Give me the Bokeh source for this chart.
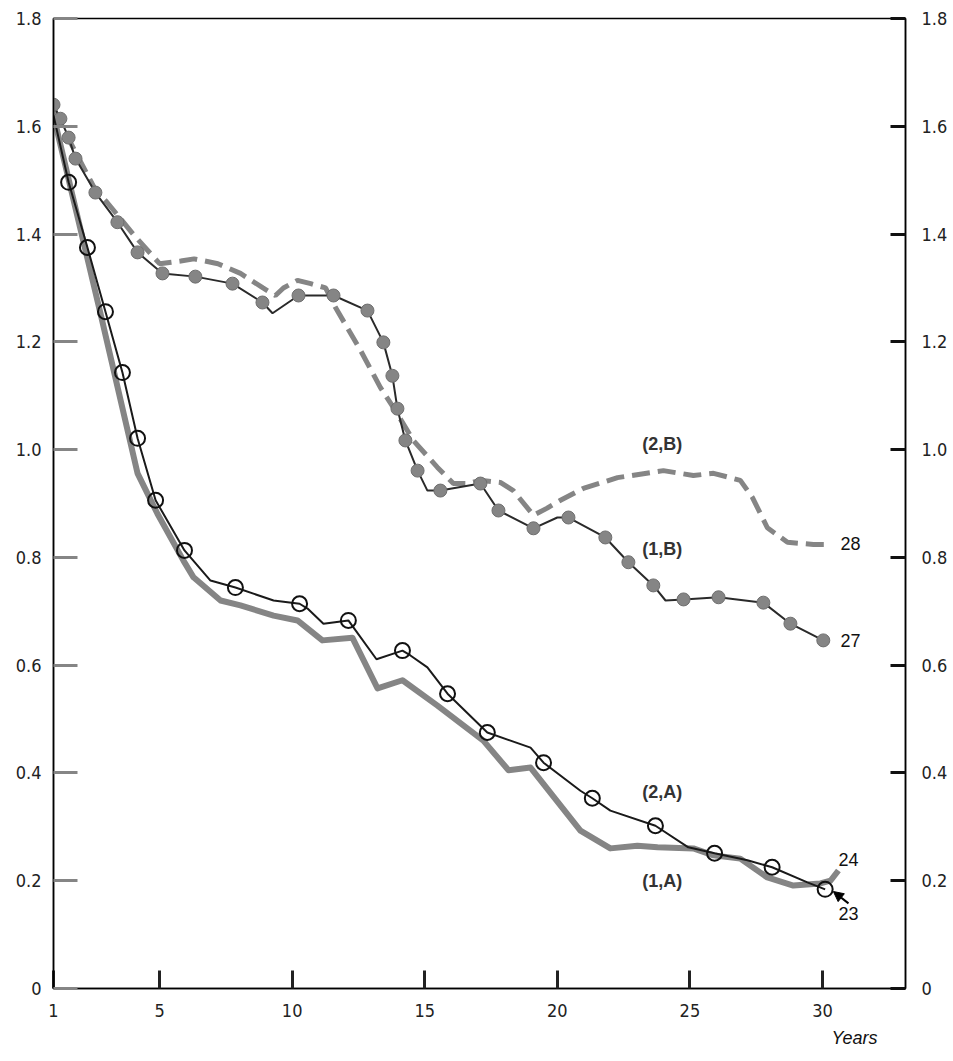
from bokeh.plotting import figure
from bokeh.models import (LinearAxis, FixedTicker, Range1d, Label, Arrow, NormalHead, Title)
from bokeh.embed import file_html
from bokeh.resources import INLINE

# ---------------- data ----------------
years_1A = [1.0, 2.77, 4.17, 4.92, 5.90, 6.28, 7.30, 8.05, 9.30, 10.20, 11.14, 12.27, 13.22,
            14.16, 15.48, 17.21, 18.16, 18.99, 20.87, 22.00, 23.02, 23.78, 25.13, 25.89,
            26.90, 27.92, 28.90, 29.92, 30.30, 30.60]
vals_1A = [1.62, 1.253, 0.956, 0.881, 0.794, 0.763, 0.720, 0.711, 0.692, 0.683, 0.646, 0.651,
           0.557, 0.572, 0.525, 0.460, 0.405, 0.410, 0.293, 0.260, 0.265, 0.262, 0.260, 0.247,
           0.241, 0.206, 0.191, 0.195, 0.200, 0.219]

years_2A = [1.0, 1.57, 2.28, 2.96, 3.60, 4.17, 4.85, 5.94, 6.92, 7.86, 9.30, 10.28, 10.58,
            11.18, 12.12, 12.31, 13.18, 14.16, 14.46, 15.10, 15.86, 17.36, 18.99, 19.48,
            20.87, 21.32, 22.00, 23.70, 24.94, 25.93, 27.17, 28.10, 29.43, 30.10]
vals_2A = [1.62, 1.496, 1.375, 1.256, 1.143, 1.021, 0.906, 0.813, 0.757, 0.744, 0.720, 0.714,
           0.705, 0.677, 0.683, 0.670, 0.611, 0.627, 0.618, 0.596, 0.547, 0.475, 0.447, 0.419,
           0.367, 0.353, 0.330, 0.302, 0.262, 0.251, 0.238, 0.225, 0.197, 0.184]
mark_years_2A = [1.57, 2.28, 2.96, 3.60, 4.17, 4.85, 5.94, 7.86, 10.28, 12.12, 14.16, 15.86,
                 17.36, 19.48, 21.32, 23.70, 25.93, 28.10, 30.10]
mark_vals_2A = [1.496, 1.375, 1.256, 1.143, 1.021, 0.906, 0.813, 0.744, 0.714, 0.683, 0.627,
                0.547, 0.475, 0.419, 0.353, 0.302, 0.251, 0.225, 0.184]

years_1B = [1.0, 1.26, 1.57, 1.83, 2.58, 3.41, 4.17, 5.11, 6.35, 7.75, 8.88, 9.26, 10.24,
            11.56, 12.84, 13.44, 13.78, 13.97, 14.27, 14.73, 15.10, 15.59, 17.10, 17.78,
            19.10, 20.00, 20.42, 21.81, 22.68, 23.62, 24.08, 24.76, 26.08, 27.77, 28.79, 30.03]
vals_1B = [1.64, 1.614, 1.579, 1.540, 1.477, 1.422, 1.366, 1.327, 1.321, 1.308, 1.273, 1.253,
           1.286, 1.286, 1.258, 1.199, 1.137, 1.076, 1.017, 0.961, 0.924, 0.924, 0.937, 0.887,
           0.854, 0.874, 0.874, 0.837, 0.791, 0.748, 0.720, 0.722, 0.726, 0.716, 0.677, 0.646]
mark_years_1B = [1.0, 1.26, 1.57, 1.83, 2.58, 3.41, 4.17, 5.11, 6.35, 7.75, 8.88, 10.24,
                 11.56, 12.84, 13.44, 13.78, 13.97, 14.27, 14.73, 15.59, 17.10, 17.78, 19.10,
                 20.42, 21.81, 22.68, 23.62, 24.76, 26.08, 27.77, 28.79, 30.03]
mark_vals_1B = [1.64, 1.614, 1.579, 1.540, 1.477, 1.422, 1.366, 1.327, 1.321, 1.308, 1.273,
                1.286, 1.286, 1.258, 1.199, 1.137, 1.076, 1.017, 0.961, 0.924, 0.937, 0.887,
                0.854, 0.874, 0.837, 0.791, 0.748, 0.722, 0.726, 0.716, 0.677, 0.646]

years_2B = [1.0, 2.6, 3.0, 4.0, 5.0, 5.8, 6.3, 7.2, 8.05, 8.9, 9.37, 9.67, 10.2, 10.7, 11.26,
            11.63, 12.58, 13.33, 13.82, 14.57, 15.48, 16.08, 16.61, 17.10, 17.85, 18.34,
            19.10, 19.6, 20.12, 20.98, 22.27, 24.0, 25.13, 25.89, 26.9, 27.36, 27.92, 28.68,
            29.66, 30.10]
vals_2B = [1.63, 1.48, 1.46, 1.40, 1.345, 1.35, 1.354, 1.345, 1.327, 1.30, 1.286, 1.30, 1.314,
           1.308, 1.30, 1.264, 1.184, 1.115, 1.078, 1.017, 0.967, 0.937, 0.937, 0.943, 0.939,
           0.924, 0.878, 0.891, 0.906, 0.928, 0.948, 0.961, 0.952, 0.956, 0.943, 0.911, 0.855,
           0.828, 0.824, 0.824]

x_ticks = [1, 5, 10, 15, 20, 25, 30]
y_ticks = [0, 0.2, 0.4, 0.6, 0.8, 1.0, 1.2, 1.4, 1.6, 1.8]
y_tick_labels = ["0", "0.2", "0.4", "0.6", "0.8", "1.0", "1.2", "1.4", "1.6", "1.8"]
x_title = "Years"

series_labels = ["(2,B)", "(1,B)", "(2,A)", "(1,A)"]
series_label_x = [23.96, 23.96, 23.96, 23.96]
series_label_y = [1.011, 0.815, 0.364, 0.200]
end_labels = ["28", "27", "24", "23"]
end_label_x = [30.68, 30.68, 30.60, 30.60]
end_label_y = [0.826, 0.646, 0.239, 0.139]

# ---------------- figure ----------------
GRAY = "#858585"
TICK_FONT = "'DejaVu Sans Condensed', 'Liberation Sans Narrow', 'Liberation Sans'"

p = figure(width=950, height=1060, output_backend="svg", toolbar_location=None,
           x_range=Range1d(1, 33.13), y_range=Range1d(0, 1.8),
           x_axis_location=None, y_axis_location=None,
           min_border_left=53, min_border_right=45, min_border_top=18, min_border_bottom=72)
p.grid.visible = False
p.outline_line_color = "black"
p.outline_line_width = 1.5
p.background_fill_color = "white"
p.border_fill_color = "white"

def style_axis(ax, tick_in, tick_color, standoff):
    ax.major_tick_in = tick_in
    ax.major_tick_out = 0
    ax.minor_tick_line_color = None
    ax.major_tick_line_color = tick_color
    ax.major_tick_line_width = 3
    ax.axis_line_color = "black"
    ax.axis_line_width = 1.5
    ax.major_label_text_font = TICK_FONT
    ax.major_label_text_font_size = "18px"
    ax.major_label_text_color = "#222222"
    ax.major_label_standoff = standoff

left = LinearAxis(ticker=FixedTicker(ticks=y_ticks))
left.major_label_overrides = {t: s for t, s in zip(y_ticks, y_tick_labels)}
style_axis(left, 24, GRAY, 12)
p.add_layout(left, "left")

right = LinearAxis(ticker=FixedTicker(ticks=y_ticks))
right.major_label_overrides = {t: s for t, s in zip(y_ticks, y_tick_labels)}
style_axis(right, 15, "#111111", 16)
p.add_layout(right, "right")

bottom = LinearAxis(ticker=FixedTicker(ticks=x_ticks))
style_axis(bottom, 18, "#222222", 15)
p.add_layout(bottom, "below")

p.add_layout(Title(text=x_title, align="right", offset=28, standoff=13,
                   text_font="Liberation Sans", text_font_style="italic",
                   text_font_size="18px", text_color="#111111"), "below")

# ---------------- series ----------------
# (2,B) dashed gray
p.line(years_2B, vals_2B, line_color=GRAY, line_width=5, line_dash="18 8")
# (1,B) thin dark line with filled gray circles
p.line(years_1B, vals_1B, line_color="#2a2a2a", line_width=2)
p.scatter(mark_years_1B, mark_vals_1B, size=13, marker="circle",
          fill_color=GRAY, line_color="#6f6f6f", line_width=1)
# (1,A) thick gray
p.line(years_1A, vals_1A, line_color=GRAY, line_width=6, line_join="round")
# (2,A) thin black with open circles
p.line(years_2A, vals_2A, line_color="#1a1a1a", line_width=2)
p.scatter(mark_years_2A, mark_vals_2A, size=15, marker="circle",
          fill_color=None, line_color="#111111", line_width=2)

# ---------------- labels ----------------
for s, x, y in zip(series_labels, series_label_x, series_label_y):
    p.add_layout(Label(x=x, y=y, text=s, text_align="center", text_baseline="middle",
                       text_font="Liberation Sans", text_font_style="bold",
                       text_font_size="18px", text_color="#333333"))
for s, x, y in zip(end_labels, end_label_x, end_label_y):
    p.add_layout(Label(x=x, y=y, text=s, text_align="left", text_baseline="middle",
                       text_font="Liberation Sans", text_font_size="18px",
                       text_color="#111111"))

p.add_layout(Arrow(end=NormalHead(size=10, fill_color="black", line_color="black"),
                   x_start=30.98, y_start=0.158, x_end=30.41, y_end=0.180,
                   line_color="black", line_width=2))

open("out.html", "w").write(file_html(p, INLINE))
